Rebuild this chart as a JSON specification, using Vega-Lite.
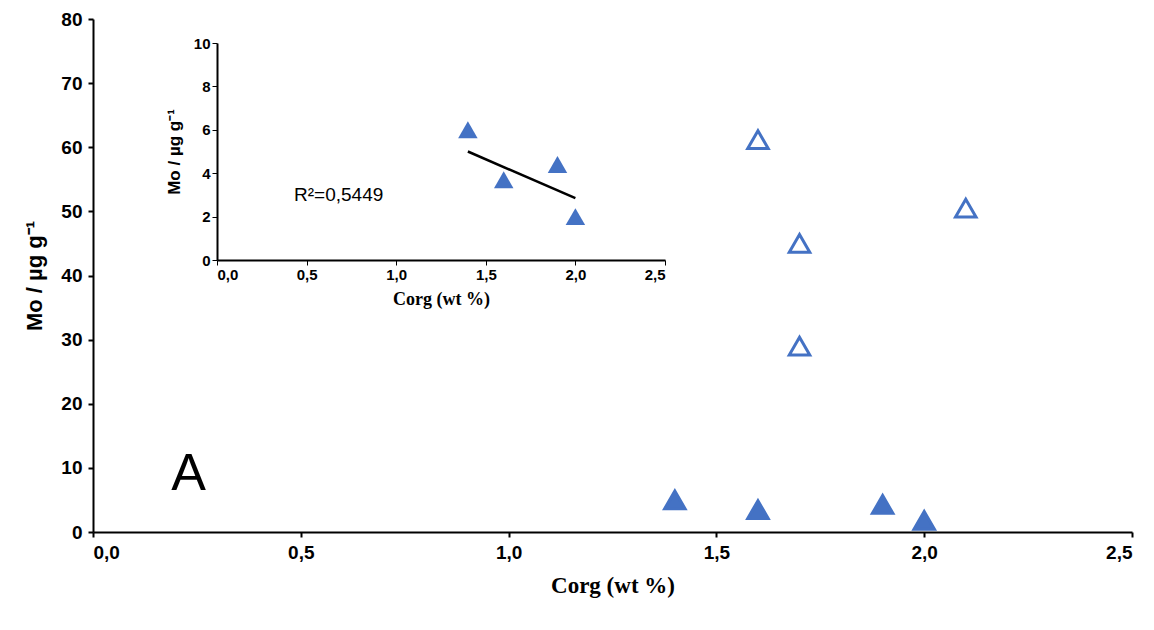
{
  "$schema": "https://vega.github.io/schema/vega-lite/v6.json",
  "background": "white",
  "padding": {"left": 23, "top": 10, "right": 20, "bottom": 5},
  "width": 1039,
  "height": 513,
  "config": {
    "view": {"stroke": null},
    "axis": {"labelFont": "Liberation Sans", "labelFontWeight": "bold", "labelColor": "black", "domainColor": "black", "tickColor": "black", "grid": false, "titleColor": "black", "titleFont": "Liberation Serif", "titleFontWeight": "bold"}
  },
  "datasets": {
    "main": [
      {"c": 1.4, "mo": 5.0, "kind": "filled"},
      {"c": 1.6, "mo": 3.5, "kind": "filled"},
      {"c": 1.9, "mo": 4.3, "kind": "filled"},
      {"c": 2.0, "mo": 1.8, "kind": "filled"},
      {"c": 1.6, "mo": 61.2, "kind": "open"},
      {"c": 1.7, "mo": 45.0, "kind": "open"},
      {"c": 1.7, "mo": 29.0, "kind": "open"},
      {"c": 2.1, "mo": 50.5, "kind": "open"}
    ],
    "inset": [
      {"c": 1.4, "mo": 6.0},
      {"c": 1.6, "mo": 3.7},
      {"c": 1.9, "mo": 4.4},
      {"c": 2.0, "mo": 2.0}
    ],
    "fit": [
      {"c": 1.4, "mo": 5.0},
      {"c": 2.0, "mo": 2.85}
    ]
  },
  "layer": [
    {
      "layer": [
        {
          "data": {"name": "main"},
          "mark": {"type": "point", "shape": "triangle-up", "size": 420, "strokeWidth": 3, "opacity": 1},
          "encoding": {
            "x": {"field": "c", "type": "quantitative", "scale": {"domain": [0, 2.5], "nice": false, "padding": 0},
              "axis": {"values": [0, 0.5, 1, 1.5, 2, 2.5], "labelExpr": "replace(format(datum.value,'.1f'),'.',',')", "labelFontSize": 19, "labelPadding": 6, "title": "Corg (wt %)", "titleFontSize": 23, "titlePadding": 12, "domainWidth": 2, "tickWidth": 2}},
            "y": {"field": "mo", "type": "quantitative", "scale": {"domain": [0, 80], "nice": false, "padding": 0},
              "axis": {"values": [0, 10, 20, 30, 40, 50, 60, 70, 80], "labelFontSize": 19, "labelPadding": 6, "title": "Mo / µg g⁻¹", "titleFontSize": 22, "titleFont": "Liberation Sans", "titlePadding": 14, "domainWidth": 2, "tickWidth": 2}},
            "color": {"value": "#4472C4"},
            "fill": {"field": "kind", "type": "nominal", "scale": {"domain": ["filled", "open"], "range": ["#4472C4", "white"]}, "legend": null}
          }
        },
        {
          "data": {"values": [{"c": 0.23, "mo": 9, "t": "A"}]},
          "mark": {"type": "text", "font": "Liberation Sans", "fontSize": 52},
          "encoding": {"x": {"field": "c", "type": "quantitative"}, "y": {"field": "mo", "type": "quantitative"}, "text": {"field": "t"}}
        }
      ]
    },
    {
      "layer": [
        {
          "data": {"name": "inset"},
          "mark": {"type": "point", "shape": "triangle-up", "filled": true, "color": "#4472C4", "size": 380, "opacity": 1},
          "encoding": {
            "x": {"field": "c", "type": "quantitative", "scale": {"domain": [0, 2.5], "range": [124, 572], "nice": false, "padding": 0},
              "axis": {"orient": "bottom", "offset": -272, "values": [0, 0.5, 1, 1.5, 2, 2.5], "labelExpr": "replace(format(datum.value,'.1f'),'.',',')", "labelFontSize": 15, "title": "Corg (wt %)", "titleFontSize": 18, "titlePadding": 8, "domainWidth": 2}},
            "y": {"field": "mo", "type": "quantitative", "scale": {"domain": [0, 10], "range": [241, 24], "nice": false, "padding": 0},
              "axis": {"orient": "left", "offset": -124, "values": [0, 2, 4, 6, 8, 10], "labelFontSize": 15, "title": "Mo / µg g⁻¹", "titleFontSize": 17, "titleFont": "Liberation Sans", "titlePadding": 10, "domainWidth": 2}}
          }
        },
        {
          "data": {"name": "fit"},
          "mark": {"type": "line", "color": "black", "strokeWidth": 2.5},
          "encoding": {"x": {"field": "c", "type": "quantitative"}, "y": {"field": "mo", "type": "quantitative"}}
        },
        {
          "data": {"values": [{"c": 0.43, "mo": 3.0, "t": "R²=0,5449"}]},
          "mark": {"type": "text", "font": "Liberation Sans", "fontSize": 19, "align": "left"},
          "encoding": {"x": {"field": "c", "type": "quantitative"}, "y": {"field": "mo", "type": "quantitative"}, "text": {"field": "t"}}
        }
      ]
    }
  ],
  "resolve": {"scale": {"x": "independent", "y": "independent"}, "axis": {"x": "independent", "y": "independent"}}
}
